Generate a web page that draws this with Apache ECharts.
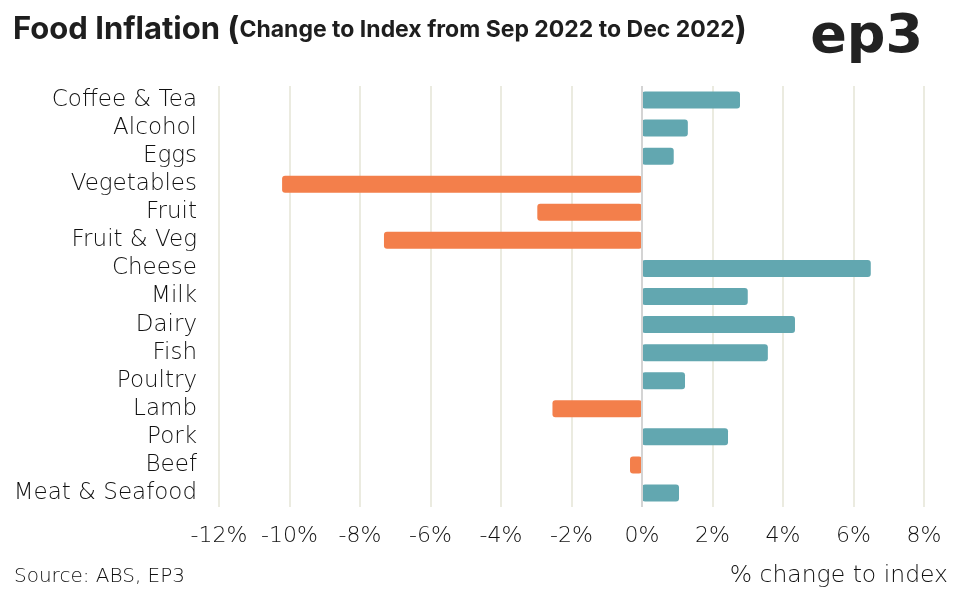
<!DOCTYPE html>
<html><head><meta charset="utf-8">
<script src="https://cdn.jsdelivr.net/npm/echarts@6/dist/echarts.min.js"></script>
<style>html,body{margin:0;padding:0;background:#fff}#c{width:956px;height:597px}</style>
</head><body><div id="c"></div>
<script>
const categories = ["Coffee & Tea","Alcohol","Eggs","Vegetables","Fruit","Fruit & Veg","Cheese","Milk","Dairy","Fish","Poultry","Lamb","Pork","Beef","Meat & Seafood"];
const values = [2.78, 1.3, 0.9, -10.21, -2.97, -7.32, 6.49, 3.0, 4.34, 3.57, 1.22, -2.54, 2.44, -0.34, 1.05];
const xTicks = [-12,-10,-8,-6,-4,-2,0,2,4,6,8];

const F = 'DejaVu Sans';
const chart = echarts.init(document.getElementById('c'));
chart.setOption({
  animation:false,
  backgroundColor:'#fff',
  title:{
    left:8, top:9,
    text:'{a|Food Inflation }{p|(}{b|Change to Index from Sep 2022 to Dec 2022}{p|)}',
    textStyle:{rich:{
      a:{fontFamily:'Inter',fontWeight:'bold',fontSize:31,color:'#1e1e1e'},
      p:{fontFamily:'Inter',fontWeight:'bold',fontSize:32,color:'#1e1e1e'},
      b:{fontFamily:'Inter',fontWeight:'bold',fontSize:23,color:'#1e1e1e'}
    }}
  },
  graphic:[
    {type:'text',right:33,top:11,style:{text:'ep3',fontFamily:'DejaVu Sans',fontWeight:'bold',fontSize:54,fill:'#222'}},
    {type:'text',left:14,top:567,style:{text:'Source: ABS, EP3',fontFamily:F,fontWeight:200,fontSize:20,fill:'#111'}},
    {type:'text',right:8,top:564,style:{text:'% change to index',fontFamily:F,fontWeight:200,fontSize:23.5,fill:'#111'}}
  ],
  grid:{left:219,right:32,top:86,bottom:90},
  xAxis:{
    type:'value',min:-12,max:8,interval:2,
    axisLine:{show:false},axisTick:{show:false},
    splitLine:{show:true,lineStyle:{color:'#ebebe0',width:2}},
    axisLabel:{formatter:v=>v+'%',fontFamily:F,fontWeight:200,fontSize:22,color:'#111',margin:18}
  },
  yAxis:{
    type:'category',data:categories,inverse:true,
    axisLine:{show:false},axisTick:{show:false},
    axisLabel:{interval:0,fontFamily:F,fontWeight:200,fontSize:23,color:'#111',margin:22}
  },
  series:[{
    type:'bar',data:values,barWidth:17,
    itemStyle:{borderRadius:3,color:p=>p.value<0?'#f37f4b':'#62a7b0'},
    markLine:{silent:true,symbol:'none',label:{show:false},
      lineStyle:{color:'#d4d4d4',width:2,type:'solid'},
      data:[{xAxis:0}]}
  }]
});
</script></body></html>
